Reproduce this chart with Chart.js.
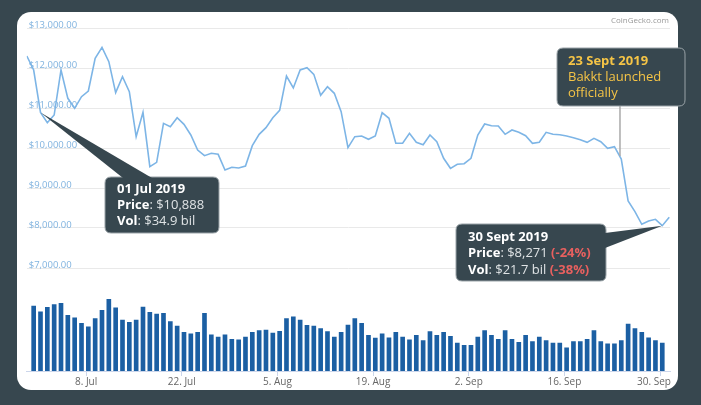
<!DOCTYPE html>
<html><head><meta charset="utf-8">
<script src="https://cdn.jsdelivr.net/npm/chart.js@4.4.1/dist/chart.umd.min.js"></script>
<style>
html,body{margin:0;padding:0;background:#37474f;width:701px;height:405px;overflow:hidden}
#card{position:absolute;left:17px;top:12px;width:661px;height:378px;background:#fff;border-radius:14px}
#wrap{position:absolute;left:0;top:0;width:701px;height:405px}
#credit{position:absolute;right:32px;top:14px;font:8px "Open Sans",sans-serif;color:#999;}
</style></head><body>
<div id="card"></div>
<div id="wrap"><canvas id="c" width="701" height="405"></canvas></div>
<div id="credit">CoinGecko.com</div>
<script>
// ---- data (days counted from 30 Jun 2019 00:00) ----
const priceBefore = 12300;           // 29 Jun 2019
const prices = [11950,10888,10633,10825,11950,11242,10992,11283,11425,12242,
  12517,12158,11383,11783,11408,10283,10892,9533,9642,10617,
  10533,10758,10592,10325,9950,9808,9867,9842,9450,9517,
  9500,9550,10058,10342,10508,10758,10942,11800,11500,11950,
  12008,11842,11317,11533,11367,10908,10008,10283,10300,10217,
  10300,10883,10742,10117,10117,10367,10142,10083,10325,10158,
  9742,9492,9592,9608,9742,10325,10600,10558,10550,10342,
  10450,10392,10308,10117,10142,10392,10342,10333,10300,10258,
  10208,10142,10242,10158,9992,10033,9725,8675,8408,8092,
  8175,8217,8058];
const priceLatest = 8271;            // latest quote, 1 Oct 2019
const volumesBil = [37.3,34.9,36.8,37.9,38.4,33.4,32.3,30.0,28.5,32.0,
  35.5,40.1,36.5,31.4,30.4,31.4,36.9,34.7,33.9,34.2,
  30.7,28.9,26.2,25.6,26.2,34.2,25.2,24.2,25.2,23.3,
  23.0,24.2,26.2,26.9,27.2,25.9,26.6,32.0,32.7,31.4,
  29.2,28.9,27.8,26.5,24.2,26.2,29.3,32.0,30.0,25.0,
  23.8,25.6,23.9,26.2,24.2,23.0,25.0,22.7,26.5,25.0,
  26.2,24.5,21.7,20.7,20.7,24.2,26.9,25.0,23.3,26.9,
  23.3,22.0,25.0,22.3,24.2,22.7,21.7,21.7,19.7,22.3,
  22.3,23.3,26.9,22.3,21.4,21.4,22.7,29.7,27.8,26.2,
  23.9,22.7,21.7];
const tickDays = [8,22,36,50,64,78,92];
const tickLabels = ['8. Jul','22. Jul','5. Aug','19. Aug','2. Sep','16. Sep','30. Sep'];
const priceTicks = [7000,8000,9000,10000,11000,12000,13000];
const quoteOffset = 0.33;            // daily quote time within the day (~8h)

const FONT = '"Open Sans", sans-serif';
const lastTick = tickDays[tickDays.length-1];

const linePts = [{x:-1+quoteOffset, y:priceBefore}]
  .concat(prices.map((p,i)=>({x:i+quoteOffset, y:p})))
  .concat([{x:93.35, y:priceLatest}]);
const barPts = volumesBil.map((v,i)=>({x:i+quoteOffset, y:v}));

function rr(ctx,x,y,w,h,r){ctx.beginPath();ctx.moveTo(x+r,y);ctx.lineTo(x+w-r,y);ctx.quadraticCurveTo(x+w,y,x+w,y+r);
  ctx.lineTo(x+w,y+h-r);ctx.quadraticCurveTo(x+w,y+h,x+w-r,y+h);ctx.lineTo(x+r,y+h);ctx.quadraticCurveTo(x,y+h,x,y+h-r);
  ctx.lineTo(x,y+r);ctx.quadraticCurveTo(x,y,x+r,y);ctx.closePath();}

const callouts = {
  id:'callouts',
  afterDatasetsDraw(chart, args, opts){
    const ctx = chart.ctx, xs = chart.scales.x, ys = chart.scales.y;
    opts.items.forEach(c=>{
      const ax = xs.getPixelForValue(c.anchor.x), ay = ys.getPixelForValue(c.anchor.y);
      const b = c.box;
      ctx.save();
      if (c.stem){
        ctx.strokeStyle='#a9a9a9'; ctx.lineWidth=1.5;
        ctx.beginPath(); ctx.moveTo(ax,b.y+b.h); ctx.lineTo(ax,ay); ctx.stroke();
      }
      rr(ctx,b.x,b.y,b.w,b.h,6);
      ctx.fillStyle='#37474f'; ctx.fill();
      ctx.strokeStyle='#9aa3a8'; ctx.lineWidth=1; ctx.stroke();
      if (c.base){
        ctx.beginPath(); ctx.moveTo(ax,ay); ctx.lineTo(c.base[0][0],c.base[0][1]); ctx.lineTo(c.base[1][0],c.base[1][1]); ctx.closePath();
        ctx.fillStyle='#37474f'; ctx.fill();
      }
      ctx.textBaseline='middle'; ctx.textAlign='left';
      c.lines.forEach((ln,li)=>{
        let x = b.x + c.padX; const y = c.lineY[li];
        ln.forEach(seg=>{
          ctx.font = (seg.b?'bold ':'') + c.size + 'px ' + FONT;
          ctx.fillStyle = seg.c;
          ctx.fillText(seg.t, x, y);
          x += ctx.measureText(seg.t).width;
        });
      });
      ctx.restore();
    });
  }
};

const W='#ffffff', G='#dfe3e5', Y='#f5c446', R='#e8605f';
new Chart(document.getElementById('c'), {
  data:{datasets:[
    {type:'line', label:'Price', data:linePts, yAxisID:'y', borderColor:'#7db5e6', borderWidth:1.6, pointRadius:0, tension:0, order:0},
    {type:'bar', label:'Volume', data:barPts, yAxisID:'y2', backgroundColor:'#1b5fa3', barThickness:4, order:1}
  ]},
  options:{
    responsive:false, animation:false,
    layout:{padding:{left:26.7, right:31, top:28, bottom:0}},
    plugins:{legend:{display:false}, tooltip:{enabled:false},
      callouts:{items:[
        {anchor:{x:1+quoteOffset, y:prices[1]}, box:{x:105,y:177,w:114,h:56}, base:[[123,178],[152,178]],
         padX:12, size:13, lineY:[189.5,205.5,221.5],
         lines:[[{t:'01 Jul 2019',b:1,c:W}],[{t:'Price',b:1,c:W},{t:': $10,888',c:G}],[{t:'Vol',b:1,c:W},{t:': $34.9 bil',c:G}]]},
        {anchor:{x:86.14, y:9800}, stem:true, box:{x:557,y:48,w:128,h:58},
         padX:11, size:13, lineY:[61.5,77.5,93.5],
         lines:[[{t:'23 Sept 2019',b:1,c:Y}],[{t:'Bakkt launched',c:Y}],[{t:'officially',c:Y}]]},
        {anchor:{x:92+quoteOffset, y:prices[92]}, box:{x:456,y:224,w:150,h:57}, base:[[605,233],[605,248]],
         padX:12, size:13, lineY:[237.5,253.5,270],
         lines:[[{t:'30 Sept 2019',b:1,c:W}],[{t:'Price',b:1,c:W},{t:': $8,271 ',c:G},{t:'(-24%)',b:1,c:R}],[{t:'Vol',b:1,c:W},{t:': $21.7 bil ',c:G},{t:'(-38%)',b:1,c:R}]]}
      ]}
    },
    scales:{
      x:{type:'linear', offset:false, min:-0.69, max:93.46, position:'bottom', weight:1,
        afterBuildTicks:s=>{s.ticks = tickDays.map(v=>({value:v}));},
        afterFit:s=>{s.height=34;},
        ticks:{autoSkip:false, maxRotation:0, padding:0, color:'#666', font:{size:10, family:FONT},
          callback:(v)=> v===lastTick ? '' : tickLabels[tickDays.indexOf(v)]},
        grid:{offset:false, drawOnChartArea:false, drawTicks:true, tickLength:5, color:'#ccd6eb'},
        border:{display:true, color:'#ccd6eb'}},
      xEnd:{type:'linear', offset:false, min:-0.69, max:93.46, position:'bottom', weight:0,
        afterBuildTicks:s=>{s.ticks = [{value:lastTick}];},
        afterFit:s=>{s.height=0;},
        ticks:{mirror:true, autoSkip:false, maxRotation:0, padding:-17.5, labelOffset:-6, color:'#666', font:{size:10, family:FONT},
          callback:(v)=>tickLabels[tickDays.indexOf(v)]},
        grid:{display:false, drawTicks:false}, border:{display:false}},
      y:{type:'linear', position:'left', min:4425, max:13000,
        afterBuildTicks:s=>{s.ticks = priceTicks.map(v=>({value:v}));},
        afterFit:s=>{s.width=0;},
        ticks:{mirror:true, padding:2, labelOffset:-3, color:'#80b3df', font:{size:9.5, family:FONT},
          callback:v=>'$'+v.toLocaleString('en-US',{minimumFractionDigits:2, maximumFractionDigits:2})},
        grid:{color:'#e9e9e9', drawTicks:false}, border:{display:false}},
      y2:{type:'linear', display:false, min:9.9, max:154.6}
    }
  },
  plugins:[callouts]
});
</script>
</body></html>
